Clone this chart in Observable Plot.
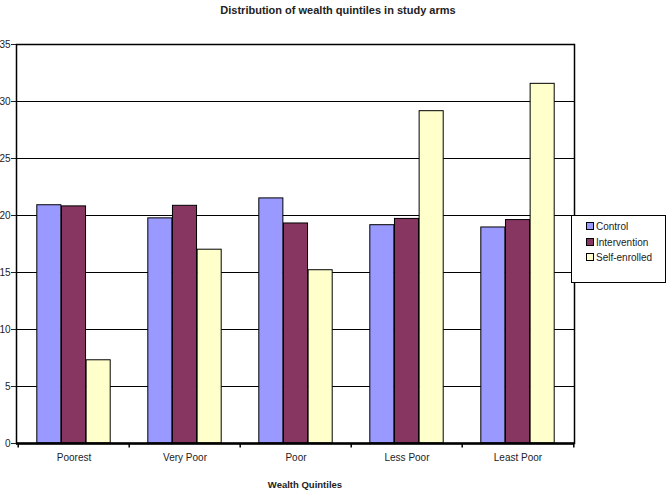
<!DOCTYPE html>
<html>
<head>
<meta charset="utf-8">
<script src="https://cdn.jsdelivr.net/npm/d3@7"></script>
<script src="https://cdn.jsdelivr.net/npm/@observablehq/plot@0.6"></script>
<style>
  html, body { margin: 0; padding: 0; background: #fff; }
  #wrap { position: relative; width: 669px; height: 490px; font-family: "Liberation Sans", Arial, sans-serif; color: #222; }
  #title { position: absolute; left: 0; width: 676px; top: 4px; text-align: center; font-weight: bold; font-size: 11px; }
  #xtitle { position: absolute; left: 205px; width: 200px; top: 479px; text-align: center; font-weight: bold; font-size: 9.5px; }
  #legend { position: absolute; left: 571px; top: 215px; width: 95px; height: 68px; border: 1px solid #000; background: #fff; font-size: 10px; box-sizing: border-box; }
  .item { position: absolute; left: 14px; height: 12px; line-height: 12px; white-space: nowrap; }
  .sw { display: inline-block; width: 6px; height: 6px; border: 1px solid #000; margin-right: 2px; vertical-align: 0px; }
</style>
</head>
<body>
<div id="wrap">
  <div id="title"></div>
  <div id="chart"></div>
  <div id="xtitle"></div>
  <div id="legend"></div>
</div>
<script>
const titleText = "Distribution of wealth quintiles in study arms";
const xTitle = "Wealth Quintiles";
const categories = ["Poorest", "Very Poor", "Poor", "Less Poor", "Least Poor"];
const seriesNames = ["Control", "Intervention", "Self-enrolled"];
const seriesColors = ["#9999FF", "#873661", "#FFFFCC"];
const control = [20.9, 19.75, 21.5, 19.15, 18.95];
const intervention = [20.8, 20.85, 19.3, 19.7, 19.6];
const selfEnrolled = [7.3, 17.0, 15.2, 29.15, 31.55];
const yTicks = [0, 5, 10, 15, 20, 25, 30, 35];

const seriesValues = [control, intervention, selfEnrolled];
const data = [];
seriesNames.forEach((s, si) => categories.forEach((c, ci) => data.push({category: c, series: s, value: seriesValues[si][ci]})));

const W = 669, H = 490, mL = 16, mR = 95, mT = 44, mB = 47;
const step = (W - mL - mR) / categories.length;
const groupW = step * 0.663;
const barW = groupW / seriesNames.length;

document.getElementById("title").textContent = titleText;
document.getElementById("xtitle").textContent = xTitle;

const barMarks = seriesNames.map((s, i) => {
  const left = (step - groupW) / 2 + barW * i;
  return Plot.barY(data.filter(d => d.series === s), {
    x: "category", y: "value", fill: "series",
    stroke: "#000", strokeWidth: 1,
    insetLeft: left, insetRight: step - left - barW
  });
});

const chart = Plot.plot({
  width: W, height: H,
  marginLeft: mL, marginRight: mR, marginTop: mT, marginBottom: mB,
  style: {fontFamily: "'Liberation Sans', Arial, sans-serif", fontSize: "10px", color: "#222", background: "transparent"},
  x: {domain: categories, padding: 0, tickSize: 0, tickPadding: 10, label: null},
  y: {domain: [0, 35], ticks: yTicks, tickSize: 5, tickPadding: 1, label: null, tickFormat: d3.format("d")},
  color: {domain: seriesNames, range: seriesColors},
  marks: [
    Plot.ruleY(yTicks, {stroke: "#000", strokeWidth: 1}),
    ...barMarks,
    Plot.ruleX(categories, {x: d => d, dx: -step / 2, y1: 0, y2: -0.4, stroke: "#000", strokeWidth: 1.5}),
    Plot.ruleX([categories[categories.length - 1]], {x: d => d, dx: step / 2, y1: 0, y2: -0.4, stroke: "#000", strokeWidth: 1.5}),
    Plot.frame({stroke: "#000", strokeWidth: 1.5}),
    Plot.ruleY([0], {stroke: "#000", strokeWidth: 2.5})
  ]
});
document.getElementById("chart").appendChild(chart);

const legend = document.getElementById("legend");
seriesNames.forEach((s, i) => {
  const it = document.createElement("div");
  it.className = "item";
  it.style.top = (5 + i * 15.5) + "px";
  const sw = document.createElement("span");
  sw.className = "sw";
  sw.style.background = seriesColors[i];
  it.appendChild(sw);
  it.appendChild(document.createTextNode(s));
  legend.appendChild(it);
});
</script>
</body>
</html>
